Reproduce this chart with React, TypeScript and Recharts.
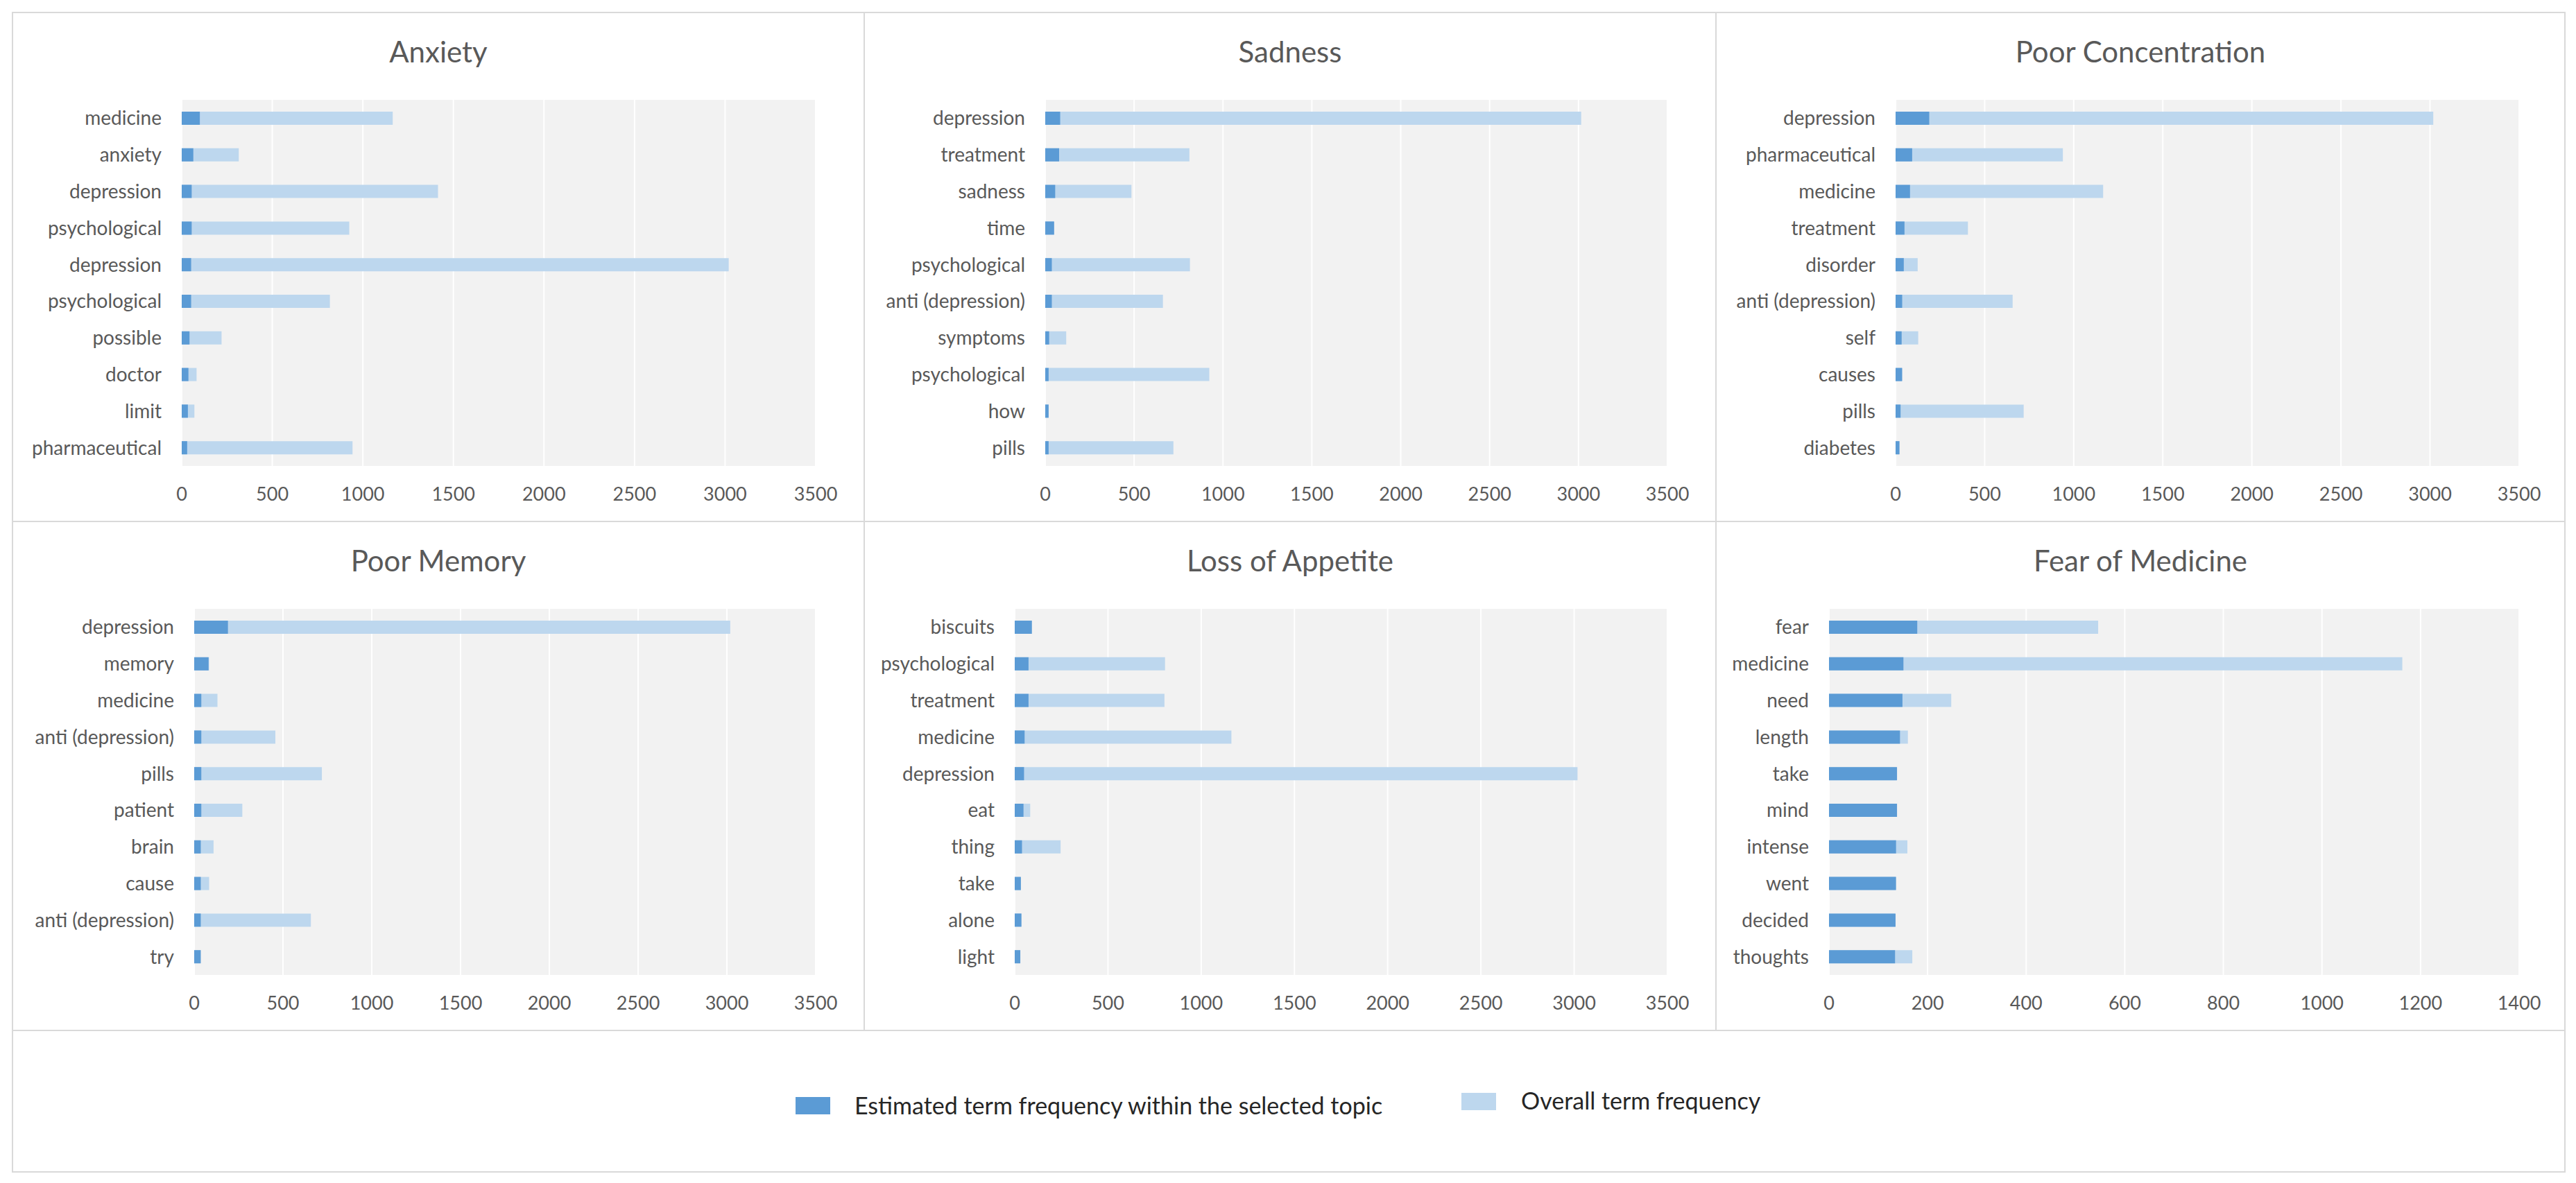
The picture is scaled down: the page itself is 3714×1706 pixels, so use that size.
import React from "react";
import { Bar, BarChart, CartesianGrid, XAxis, YAxis } from "recharts";

// colours used by the original (Excel-style blues)
const TOPIC_COLOR = "#5B9BD5";
const OVERALL_COLOR = "#BDD7EE";
const TEXT = "#595959";
const BORDER = "#D9D9D9";
const FONT = "Lato, 'Open Sans', sans-serif";

// ---- data, top to bottom as drawn ----
const anxietyTerms = ["medicine", "anxiety", "depression", "psychological", "depression", "psychological", "possible", "doctor", "limit", "pharmaceutical"];
const anxietyTopic = [100, 64, 55, 55, 52, 52, 43, 37, 34, 30];
const anxietyOverall = [1165, 315, 1415, 925, 3020, 818, 220, 82, 70, 943];

const sadnessTerms = ["depression", "treatment", "sadness", "time", "psychological", "anti (depression)", "symptoms", "psychological", "how", "pills"];
const sadnessTopic = [84, 78, 56, 50, 37, 37, 22, 19, 19, 19];
const sadnessOverall = [3015, 811, 485, 48, 814, 662, 118, 923, 18, 721];

const concentrationTerms = ["depression", "pharmaceutical", "medicine", "treatment", "disorder", "anti (depression)", "self", "causes", "pills", "diabetes"];
const concentrationTopic = [189, 93, 81, 50, 46, 37, 34, 37, 28, 22];
const concentrationOverall = [3018, 939, 1165, 406, 124, 657, 127, 35, 719, 20];

const memoryTerms = ["depression", "memory", "medicine", "anti (depression)", "pills", "patient", "brain", "cause", "anti (depression)", "try"];
const memoryTopic = [190, 81, 40, 40, 40, 40, 37, 37, 37, 37];
const memoryOverall = [3019, 84, 131, 457, 719, 271, 109, 84, 657, 35];

const appetiteTerms = ["biscuits", "psychological", "treatment", "medicine", "depression", "eat", "thing", "take", "alone", "light"];
const appetiteTopic = [92, 74, 74, 53, 50, 47, 39, 33, 36, 30];
const appetiteOverall = [90, 806, 803, 1162, 3018, 83, 246, 32, 35, 29];

const fearTerms = ["fear", "medicine", "need", "length", "take", "mind", "intense", "went", "decided", "thoughts"];
const fearTopic = [179, 151, 149, 144, 138, 138, 136, 136, 135, 134];
const fearOverall = [546, 1163, 248, 160, 136, 137, 159, 135, 134, 169];

const ticks3500 = [0, 500, 1000, 1500, 2000, 2500, 3000, 3500];
const ticks1400 = [0, 200, 400, 600, 800, 1000, 1200, 1400];

const legendLabels = ["Estimated term frequency within the selected topic", "Overall term frequency"];

const PANEL_H = 734;

interface PanelProps {
  title: string;
  terms: string[];
  topic: number[];
  overall: number[];
  ticks: number[];
  yWidth: number;
  left: number;
  top: number;
  width: number;
}

function Panel(props: PanelProps) {
  const { title, terms, topic, overall, ticks, yWidth, left, top, width } = props;
  const data = terms.map((term, i) => ({ term, topic: topic[i], overall: overall[i] }));

  return (
    <div style={{ position: "absolute", left, top, width, height: PANEL_H }}>
      <div
        style={{
          position: "absolute",
          left: 0,
          top: 0,
          width,
          height: 112,
          display: "flex",
          alignItems: "center",
          justifyContent: "center",
          fontFamily: FONT,
          fontSize: 42,
          color: TEXT,
        }}
      >
        {title}
      </div>
      <BarChart
        width={width}
        height={PANEL_H}
        data={data}
        layout="vertical"
        margin={{ top: 126, right: width - 1158, bottom: 0, left: 0 }}
        barSize={19}
        barGap={-19}
      >
        <CartesianGrid horizontal={false} fill="#F2F2F2" stroke="#FFFFFF" strokeWidth={2} />
        <XAxis
          type="number"
          domain={[0, ticks[ticks.length - 1]]}
          ticks={ticks}
          axisLine={false}
          tickLine={false}
          tickSize={0}
          tickMargin={31}
          height={80}
          tick={{ fontSize: 27, fill: TEXT, fontFamily: FONT }}
        />
        <YAxis
          type="category"
          dataKey="term"
          width={yWidth}
          axisLine={false}
          tickLine={false}
          tickSize={0}
          tickMargin={29}
          interval={0}
          tick={{ fontSize: 28, fill: TEXT, fontFamily: FONT }}
        />
        <Bar dataKey="overall" fill={OVERALL_COLOR} isAnimationActive={false} />
        <Bar dataKey="topic" fill={TOPIC_COLOR} isAnimationActive={false} />
      </BarChart>
    </div>
  );
}

export default function App() {
  const line = (l: number, t: number, w: number, h: number) => (
    <div style={{ position: "absolute", left: l, top: t, width: w, height: h, background: BORDER }} />
  );

  return (
    <div style={{ position: "absolute", left: 0, top: 0, width: 3714, height: 1706, background: "#FFFFFF" }}>
      <Panel title="Anxiety" terms={anxietyTerms} topic={anxietyTopic} overall={anxietyOverall} ticks={ticks3500} yWidth={244} left={18} top={18} width={1228} />
      <Panel title="Sadness" terms={sadnessTerms} topic={sadnessTopic} overall={sadnessOverall} ticks={ticks3500} yWidth={261} left={1246} top={18} width={1228} />
      <Panel title="Poor Concentration" terms={concentrationTerms} topic={concentrationTopic} overall={concentrationOverall} ticks={ticks3500} yWidth={259} left={2474} top={18} width={1224} />
      <Panel title="Poor Memory" terms={memoryTerms} topic={memoryTopic} overall={memoryOverall} ticks={ticks3500} yWidth={262} left={18} top={752} width={1228} />
      <Panel title="Loss of Appetite" terms={appetiteTerms} topic={appetiteTopic} overall={appetiteOverall} ticks={ticks3500} yWidth={217} left={1246} top={752} width={1228} />
      <Panel title="Fear of Medicine" terms={fearTerms} topic={fearTopic} overall={fearOverall} ticks={ticks1400} yWidth={163} left={2474} top={752} width={1224} />

      {/* frame and dividers */}
      {line(17, 17, 3682, 2)}
      {line(17, 1689, 3682, 2)}
      {line(17, 17, 2, 1674)}
      {line(3697, 17, 2, 1674)}
      {line(17, 751, 3682, 2)}
      {line(17, 1485, 3682, 2)}
      {line(1245, 17, 2, 1470)}
      {line(2473, 17, 2, 1470)}

      {/* shared legend */}
      <div style={{ position: "absolute", left: 1147, top: 1582, width: 50, height: 25, background: TOPIC_COLOR }} />
      <div style={{ position: "absolute", left: 1232, top: 1574, height: 40, lineHeight: "40px", fontFamily: FONT, fontSize: 34, color: "#262626", whiteSpace: "nowrap" }}>
        {legendLabels[0]}
      </div>
      <div style={{ position: "absolute", left: 2107, top: 1576, width: 50, height: 25, background: OVERALL_COLOR }} />
      <div style={{ position: "absolute", left: 2193, top: 1567, height: 40, lineHeight: "40px", fontFamily: FONT, fontSize: 34, color: "#262626", whiteSpace: "nowrap" }}>
        {legendLabels[1]}
      </div>
    </div>
  );
}
